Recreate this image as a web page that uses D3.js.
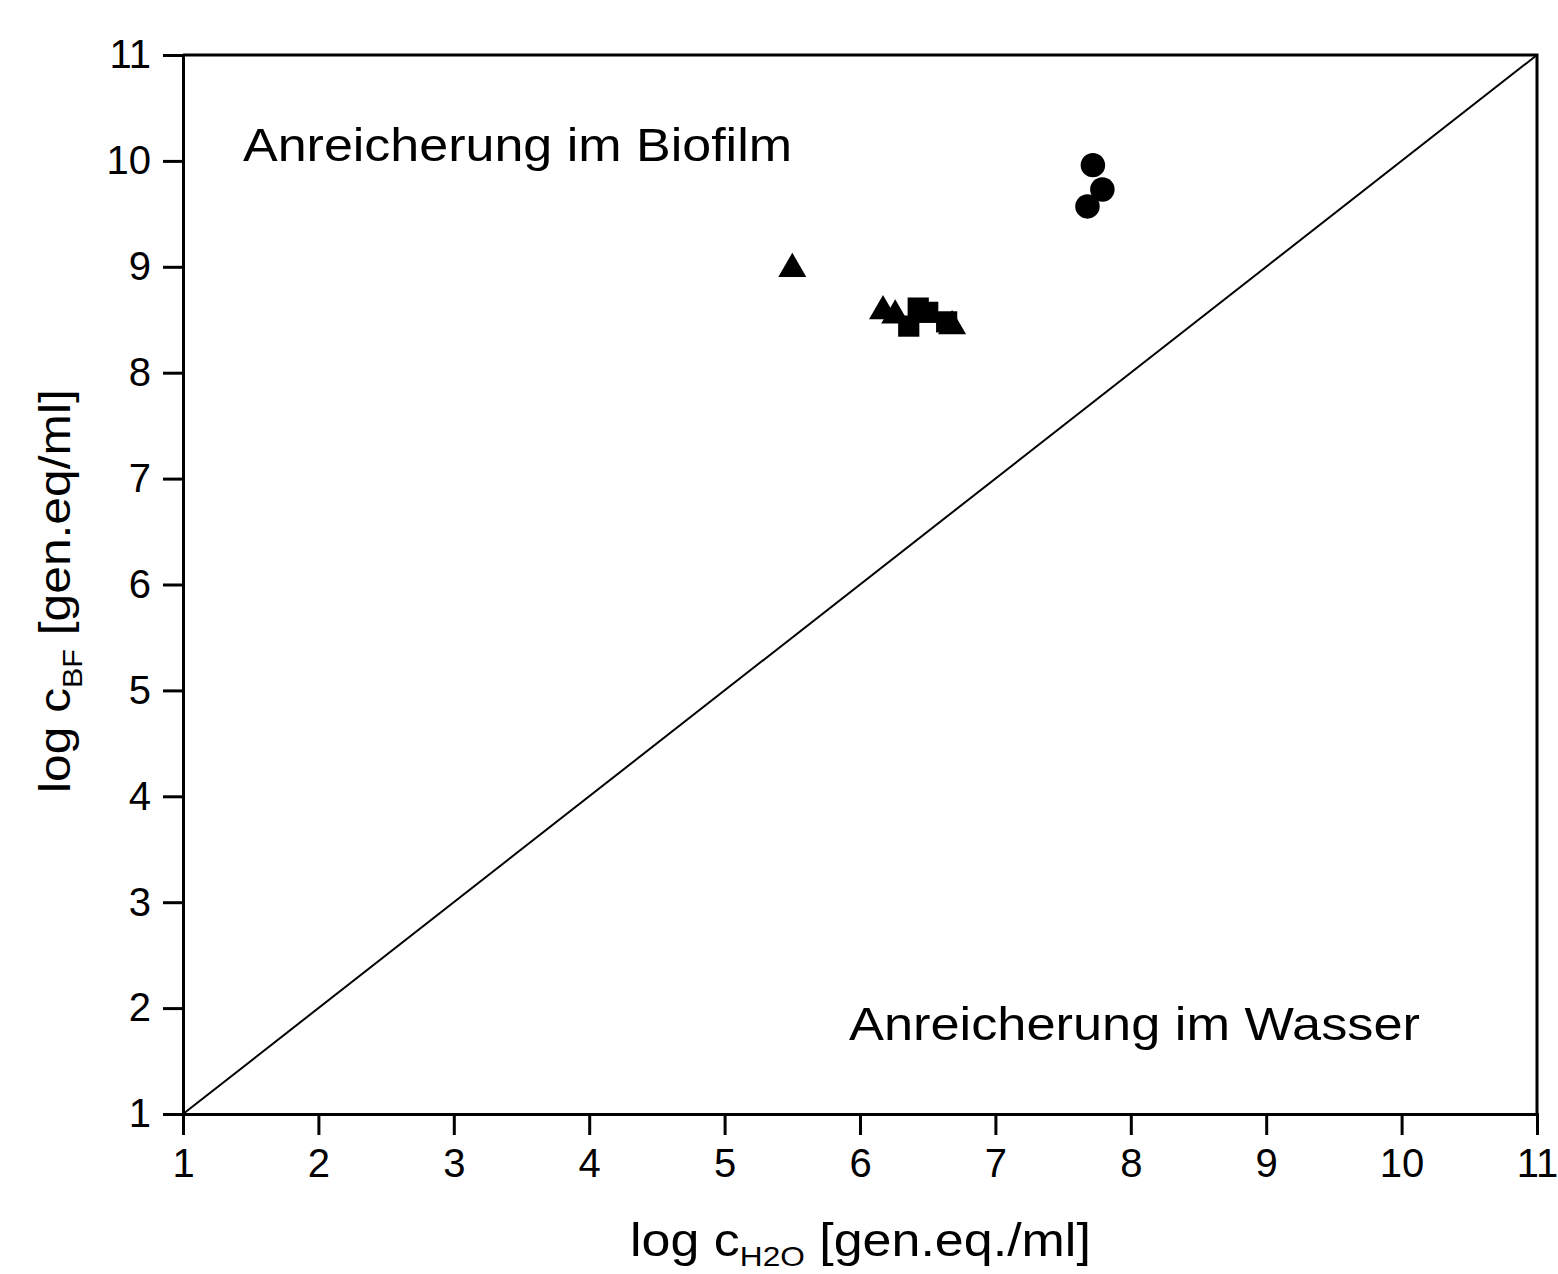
<!DOCTYPE html>
<html lang="de">
<head>
<meta charset="UTF-8">
<title>Anreicherung Biofilm / Wasser</title>
<script src="https://d3js.org/d3.v7.min.js"></script>
<style>
  body { margin: 0; background: #fff; }
  svg text { font-family: "Liberation Sans", Arial, sans-serif; fill: #000; }
</style>
</head>
<body>
<script>
// data (log c_H2O, log c_BF)
const circleX = [7.72, 7.79, 7.68];
const circleY = [9.96, 9.73, 9.57];
const triangleX = [5.50, 6.17, 6.26, 6.68];
const triangleY = [8.98, 8.58, 8.54, 8.44];
const squareX = [6.43, 6.50, 6.36, 6.64];
const squareY = [8.61, 8.57, 8.44, 8.48];
const tickValues = [1, 2, 3, 4, 5, 6, 7, 8, 9, 10, 11];

const W = 1558, H = 1274;
const mLeft = 183, mRight = 1537, mTop = 55, mBottom = 1114;

const svg = d3.select('body').append('svg')
    .attr('width', W)
    .attr('height', H);

const x = d3.scaleLinear().domain([1, 11]).range([mLeft, mRight]);
const y = d3.scaleLinear().domain([1, 11]).range([mBottom, mTop]);

// frame (top + right)
svg.append('path')
    .attr('d', `M${mLeft},${mTop}H${mRight}V${mBottom}`)
    .attr('fill', 'none')
    .attr('stroke', '#000')
    .attr('stroke-width', 3);

// 1:1 line
svg.append('line')
    .attr('x1', x(1)).attr('y1', y(1))
    .attr('x2', x(11)).attr('y2', y(11))
    .attr('stroke', '#000')
    .attr('stroke-width', 2);

const xAxis = svg.append('g')
    .attr('transform', `translate(0,${mBottom})`)
    .call(d3.axisBottom(x).tickValues(tickValues).tickSize(21).tickPadding(8).tickSizeOuter(21));
const yAxis = svg.append('g')
    .attr('transform', `translate(${mLeft},0)`)
    .call(d3.axisLeft(y).tickValues(tickValues).tickSize(20).tickPadding(12).tickSizeOuter(20));

[xAxis, yAxis].forEach(g => {
    g.selectAll('path, line').attr('stroke', '#000').attr('stroke-width', 3);
    g.selectAll('text').style('font-size', '40px').attr('fill', '#000');
});
xAxis.selectAll('text').attr('dy', '0.85em');

// markers
const pts = [];
circleX.forEach((v, i) => pts.push({ x: v, y: circleY[i], type: d3.symbolCircle, size: 470 }));
triangleX.forEach((v, i) => pts.push({ x: v, y: triangleY[i], type: d3.symbolTriangle, size: 340 }));
squareX.forEach((v, i) => pts.push({ x: v, y: squareY[i], type: d3.symbolSquare, size: 450 }));

svg.append('g').selectAll('path')
    .data(pts)
    .join('path')
    .attr('transform', d => `translate(${x(d.x)},${y(d.y)})`)
    .attr('d', d => d3.symbol().type(d.type).size(d.size)())
    .attr('fill', '#000');

// region labels
svg.append('text')
    .attr('x', 243).attr('y', 161)
    .style('font-size', '47px')
    .attr('textLength', 549)
    .attr('lengthAdjust', 'spacingAndGlyphs')
    .text('Anreicherung im Biofilm');
svg.append('text')
    .attr('x', 849).attr('y', 1040)
    .style('font-size', '47px')
    .attr('textLength', 571)
    .attr('lengthAdjust', 'spacingAndGlyphs')
    .text('Anreicherung im Wasser');

// axis titles (horizontally stretched like the original)
const xt = svg.append('text')
    .attr('transform', 'translate(630,1256) scale(1.13,1)')
    .style('font-size', '46px');
xt.append('tspan').text('log c');
xt.append('tspan').attr('dy', 10).style('font-size', '28px').text('H2O');
xt.append('tspan').attr('dy', -10).text(' [gen.eq./ml]');

const yt = svg.append('text')
    .attr('transform', 'translate(70,793) rotate(-90) scale(1.13,1)')
    .style('font-size', '44px');
yt.append('tspan').text('log c');
yt.append('tspan').attr('dy', 12).style('font-size', '27px').text('BF');
yt.append('tspan').attr('dy', -12).text(' [gen.eq/ml]');
</script>
</body>
</html>
